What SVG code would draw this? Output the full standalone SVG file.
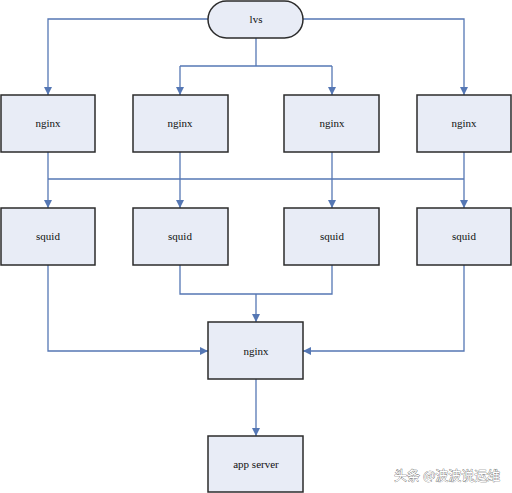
<svg xmlns="http://www.w3.org/2000/svg" width="512" height="493" viewBox="0 0 512 493">
<style>
.n{fill:#e8ecf6;stroke:#2b2b2b;stroke-width:1.5}
.t{font-family:"Liberation Serif",serif;font-size:11px;fill:#111;text-anchor:middle;dominant-baseline:central}
.c{fill:none;stroke:#5577b4;stroke-width:1.3}
.w{font-family:"Noto Sans CJK SC",sans-serif;font-size:13px;fill:#fff;stroke:#555;stroke-width:0.6;paint-order:stroke}
</style>
<defs>
<marker id="a" viewBox="0 0 10 10" refX="10" refY="5" markerWidth="8" markerHeight="8" markerUnits="userSpaceOnUse" orient="auto">
<path d="M0,0 L10,5 L0,10 z" fill="#5577b4"/>
</marker>
</defs>
<rect width="512" height="493" fill="#fff"/>
<g id="connectors">
<path class="c" d="M208,19 H48 V95" marker-end="url(#a)"/>
<path class="c" d="M303,19 H464 V95" marker-end="url(#a)"/>
<path class="c" d="M256,38 V66"/>
<path class="c" d="M180,66 H332"/>
<path class="c" d="M180,66 V95" marker-end="url(#a)"/>
<path class="c" d="M332,66 V95" marker-end="url(#a)"/>
<path class="c" d="M48,179 H464"/>
<path class="c" d="M48,152 V208" marker-end="url(#a)"/>
<path class="c" d="M180,152 V208" marker-end="url(#a)"/>
<path class="c" d="M332,152 V208" marker-end="url(#a)"/>
<path class="c" d="M464,152 V208" marker-end="url(#a)"/>
<path class="c" d="M48,265 V351 H208" marker-end="url(#a)"/>
<path class="c" d="M464,265 V351 H303" marker-end="url(#a)"/>
<path class="c" d="M180,265 V294 H332 V265"/>
<path class="c" d="M256,294 V322" marker-end="url(#a)"/>
<path class="c" d="M256,379 V436" marker-end="url(#a)"/>
</g>
<g id="lvs"><rect class="n" x="208" y="1" width="95" height="37" rx="18.5"/><text class="t" x="256" y="19">lvs</text></g>
<g id="nginx1"><rect class="n" x="1" y="95" width="94" height="57"/><text class="t" x="48" y="123">nginx</text></g>
<g id="nginx2"><rect class="n" x="133" y="95" width="95" height="57"/><text class="t" x="180" y="123">nginx</text></g>
<g id="nginx3"><rect class="n" x="284" y="95" width="95" height="57"/><text class="t" x="332" y="123">nginx</text></g>
<g id="nginx4"><rect class="n" x="417" y="95" width="94" height="57"/><text class="t" x="464" y="123">nginx</text></g>
<g id="squid1"><rect class="n" x="1" y="208" width="94" height="57"/><text class="t" x="48" y="236">squid</text></g>
<g id="squid2"><rect class="n" x="133" y="208" width="95" height="57"/><text class="t" x="180" y="236">squid</text></g>
<g id="squid3"><rect class="n" x="284" y="208" width="95" height="57"/><text class="t" x="332" y="236">squid</text></g>
<g id="squid4"><rect class="n" x="417" y="208" width="94" height="57"/><text class="t" x="464" y="236">squid</text></g>
<g id="nginx5"><rect class="n" x="208" y="322" width="95" height="57"/><text class="t" x="256" y="351">nginx</text></g>
<g id="app"><rect class="n" x="208" y="436" width="95" height="56"/><text class="t" x="256" y="464">app server</text></g>
<text class="w" x="394" y="480">头条 @波波说运维</text>
</svg>
